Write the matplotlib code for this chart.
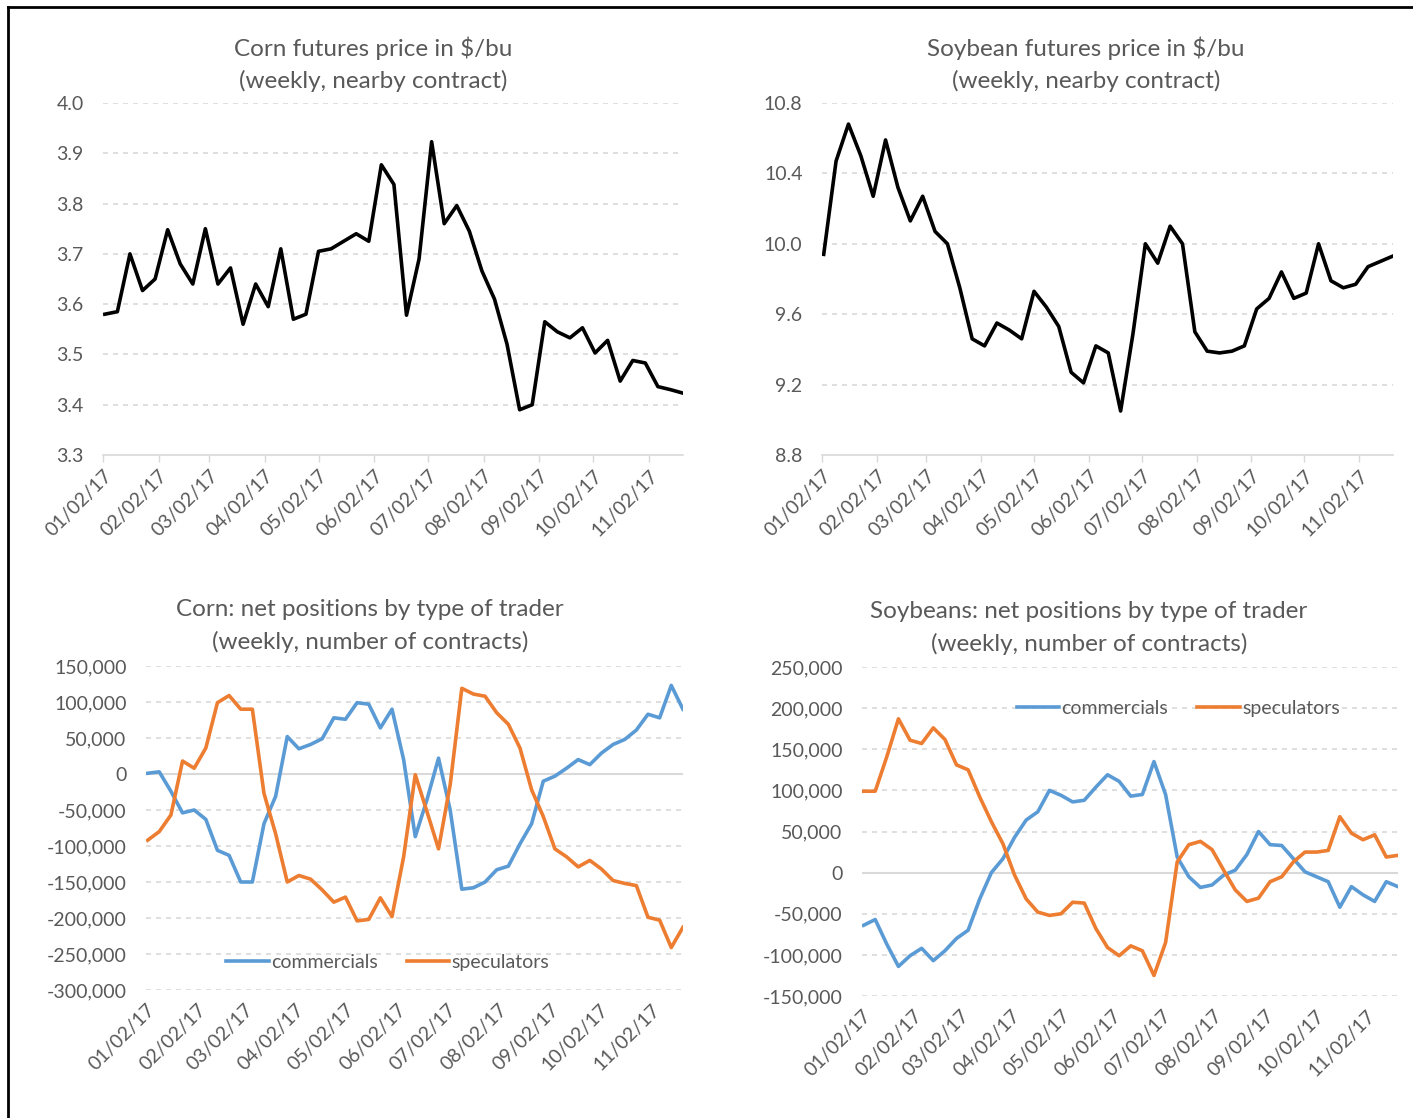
import numpy as np
import pandas as pd
import matplotlib
matplotlib.use("Agg")
from matplotlib import pyplot as plt
from matplotlib.lines import Line2D
from matplotlib.ticker import FuncFormatter

plt.rcParams['font.family'] = ['Lato', 'DejaVu Sans']

# Weekly observations (Tuesdays), 2017
dates = pd.date_range('2017-01-03', periods=47, freq='7D')
tick_dates = pd.to_datetime(['2017-%02d-02' % m for m in range(1, 12)])
tick_labels = ['01/02/17', '02/02/17', '03/02/17', '04/02/17', '05/02/17', '06/02/17',
               '07/02/17', '08/02/17', '09/02/17', '10/02/17', '11/02/17']

corn_price = [3.58, 3.585, 3.70, 3.627, 3.65, 3.748, 3.68, 3.64, 3.75, 3.64,
              3.672, 3.56, 3.64, 3.595, 3.71, 3.57, 3.58, 3.705, 3.71, 3.725,
              3.74, 3.725, 3.877, 3.838, 3.578, 3.69, 3.923, 3.76, 3.796, 3.745,
              3.666, 3.61, 3.52, 3.39, 3.40, 3.565, 3.545, 3.533, 3.553, 3.503,
              3.528, 3.447, 3.488, 3.483, 3.436, 3.43, 3.423]

soy_price = [9.94, 10.47, 10.68, 10.50, 10.27, 10.59, 10.32, 10.13, 10.27, 10.07,
             10.0, 9.75, 9.46, 9.42, 9.55, 9.51, 9.46, 9.73, 9.64, 9.53,
             9.27, 9.21, 9.42, 9.38, 9.05, 9.49, 10.0, 9.89, 10.10, 10.0,
             9.50, 9.39, 9.38, 9.39, 9.42, 9.63, 9.69, 9.84, 9.69, 9.72,
             10.0, 9.79, 9.75, 9.77, 9.87, 9.90, 9.93]

# net positions, thousands of contracts
corn_comm = [1, 3, -24, -54, -50, -63, -106, -113, -150, -150,
             -69, -31, 52, 35, 41, 49, 78, 76, 99, 97,
             64, 90, 20, -87, -36, 22, -50, -160, -158, -150,
             -133, -128, -97, -69, -10, -3, 8, 20, 13, 29,
             41, 48, 61, 83, 78, 123, 90]
corn_spec = [-92, -80, -57, 18, 8, 36, 99, 109, 90, 90,
             -27, -83, -150, -141, -146, -161, -178, -171, -204, -202,
             -172, -198, -115, -1, -52, -104, -15, 119, 111, 108,
             85, 69, 36, -22, -59, -104, -115, -129, -120, -132,
             -148, -152, -155, -199, -203, -241, -213]

soy_comm = [-64, -57, -87, -114, -101, -92, -107, -95, -80, -70,
            -32, 0, 17, 43, 64, 74, 100, 94, 86, 88,
            104, 119, 111, 93, 95, 135, 95, 19, -5, -18,
            -15, -3, 3, 22, 50, 34, 33, 17, 1, -5,
            -11, -42, -17, -27, -35, -11, -17]
soy_spec = [99, 99, 141, 187, 161, 157, 176, 162, 131, 125,
            92, 62, 35, -3, -32, -48, -52, -50, -36, -37,
            -68, -91, -101, -89, -95, -125, -85, 13, 34, 38,
            28, 3, -21, -35, -31, -11, -5, 13, 25, 25,
            27, 68, 48, 40, 46, 19, 21]

GRAY = '#595959'
GRID = '#D9D9D9'
BLUE = '#5B9BD5'
ORANGE = '#ED7D31'
W, H = 1413, 1118

fig = plt.figure(figsize=(W / 100, H / 100), dpi=100)


def style_axes(ax, yticks, fmt, zero_line=False, bottom_axis=True):
    ax.set_yticks(yticks)
    ax.set_ylim(yticks[0], yticks[-1])
    ax.yaxis.set_major_formatter(FuncFormatter(fmt))
    ax.set_xlim(pd.Timestamp('2017-01-02'), dates[-1])
    ax.set_xticks(tick_dates)
    ax.set_xticklabels(tick_labels, rotation=45, ha='right', rotation_mode='anchor')
    for s in ax.spines.values():
        s.set_visible(False)
    if bottom_axis:
        ax.spines['bottom'].set_visible(True)
        ax.spines['bottom'].set_color(GRID)
        ax.spines['bottom'].set_linewidth(1.2)
        ax.tick_params(axis='x', length=5, color=GRID, width=1)
        grid_vals = yticks[1:]
    else:
        ax.tick_params(axis='x', length=0, pad=8)
        grid_vals = [v for v in yticks if v != 0]
    ax.tick_params(axis='y', length=0, pad=14)
    ax.tick_params(labelsize=14, labelcolor=GRAY)
    for v in grid_vals:
        ax.axhline(v, color=GRID, lw=1.2, ls=(0, (3, 3)), zorder=0)
    if zero_line:
        ax.axhline(0, color=GRID, lw=1.5, zorder=0)


def title(x, y, text):
    fig.text(x / W, 1 - y / H, text, ha='center', va='center', fontsize=17.5,
             color=GRAY, linespacing=1.55)


# Corn price
ax1 = fig.add_axes([0.0729, 0.593, 0.4105, 0.3149])
ax1.plot(dates, corn_price, color='black', lw=2.6)
style_axes(ax1, [3.3, 3.4, 3.5, 3.6, 3.7, 3.8, 3.9, 4.0], lambda v, p: '%.1f' % v)
title(373, 64, 'Corn futures price in $/bu\n(weekly, nearby contract)')

# Soybean price
ax2 = fig.add_axes([0.5817, 0.593, 0.404, 0.3149])
ax2.plot(dates, soy_price, color='black', lw=2.6)
style_axes(ax2, [8.8, 9.2, 9.6, 10.0, 10.4, 10.8], lambda v, p: '%.1f' % v)
title(1086, 64, 'Soybean futures price in $/bu\n(weekly, nearby contract)')

thousands = lambda v, p: '{:,.0f}'.format(v * 1000)

# Corn positions
ax3 = fig.add_axes([0.1033, 0.1145, 0.380, 0.2898])
ax3.plot(dates, corn_comm, color=BLUE, lw=2.6, label='commercials')
ax3.plot(dates, corn_spec, color=ORANGE, lw=2.6, label='speculators')
style_axes(ax3, [-300, -250, -200, -150, -100, -50, 0, 50, 100, 150], thousands,
           zero_line=True, bottom_axis=False)
title(370, 626, 'Corn: net positions by type of trader\n(weekly, number of contracts)')
ax3.legend(loc='center', bbox_to_anchor=(0.45, 0.085), ncol=2, frameon=False,
           fontsize=14, labelcolor=GRAY, handlelength=2.2, handletextpad=0.1,
           columnspacing=1.5)

# Soybean positions
ax4 = fig.add_axes([0.610, 0.1091, 0.3793, 0.2943])
ax4.plot(dates, soy_comm, color=BLUE, lw=2.6, label='commercials')
ax4.plot(dates, soy_spec, color=ORANGE, lw=2.6, label='speculators')
style_axes(ax4, [-150, -100, -50, 0, 50, 100, 150, 200, 250], thousands,
           zero_line=True, bottom_axis=False)
title(1089, 628, 'Soybeans: net positions by type of trader\n(weekly, number of contracts)')
ax4.legend(loc='center', bbox_to_anchor=(0.59, 0.875), ncol=2, frameon=False,
           fontsize=14, labelcolor=GRAY, handlelength=2.2, handletextpad=0.1,
           columnspacing=1.5)

# outer frame (left and top edges)
fig.add_artist(Line2D([8 / W, 8 / W], [0, 1 - 7 / H], color='black', lw=2))
fig.add_artist(Line2D([8 / W, 1], [1 - 7 / H, 1 - 7 / H], color='black', lw=2))

fig.savefig('out.png', dpi=100, facecolor='white')
